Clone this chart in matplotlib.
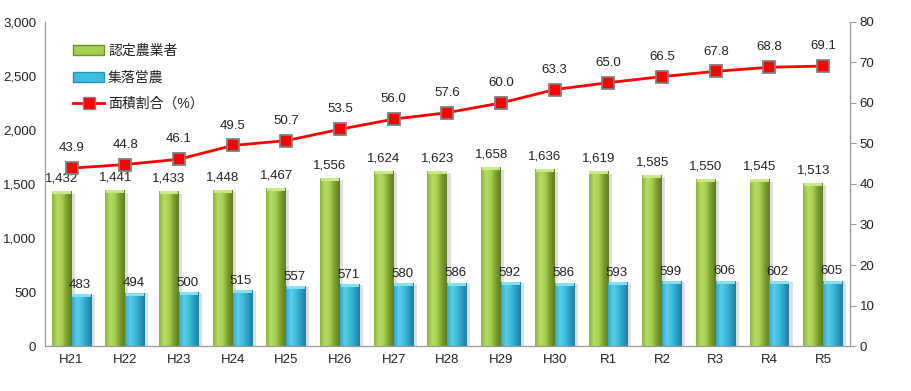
import numpy as np
import matplotlib.pyplot as plt
from matplotlib.colors import LinearSegmentedColormap
from matplotlib.patches import Patch, Rectangle
from matplotlib.lines import Line2D

plt.rcParams['font.family'] = ['Liberation Sans', 'Noto Sans CJK JP', 'DejaVu Sans']

# data
years = ['H21', 'H22', 'H23', 'H24', 'H25', 'H26', 'H27', 'H28', 'H29', 'H30',
         'R1', 'R2', 'R3', 'R4', 'R5']
nintei = [1432, 1441, 1433, 1448, 1467, 1556, 1624, 1623, 1658, 1636,
          1619, 1585, 1550, 1545, 1513]
shuraku = [483, 494, 500, 515, 557, 571, 580, 586, 592, 586,
           593, 599, 606, 602, 605]
ratio = [43.9, 44.8, 46.1, 49.5, 50.7, 53.5, 56.0, 57.6, 60.0, 63.3,
         65.0, 66.5, 67.8, 68.8, 69.1]

fig = plt.figure(figsize=(9.12, 3.91), dpi=100)
ax = fig.add_axes([0.049, 0.115, 0.883, 0.829])
ax2 = ax.twinx()

x = np.arange(len(years))
w = 0.37
txt = '#222222'

green_cm = LinearSegmentedColormap.from_list('g', ['#8cb43c', '#b4dc64', '#a6d050', '#7a9e2e', '#5f7d20'])
blue_cm = LinearSegmentedColormap.from_list('b', ['#36a8cc', '#5ccdeb', '#3cbde0', '#2c9dc2', '#1f7ea0'])

ax.set_xlim(-0.5, len(years) - 0.5)
ax.set_ylim(0, 3000)

def grad_bars(xs, vals, cmap, top_col):
    bars = ax.bar(xs, vals, w, color='none', edgecolor='none', zorder=3)
    grad = np.linspace(0, 1, 64).reshape(1, -1)
    for b in bars:
        x0, h, bw = b.get_x(), b.get_height(), b.get_width()
        # shadow
        ax.add_patch(Rectangle((x0 + bw, 0), 0.06, h * 0.985, color='#c8c8c8',
                               alpha=0.6, zorder=2, lw=0))
        im = ax.imshow(grad, cmap=cmap, extent=[x0, x0 + bw, 0, h],
                       aspect='auto', zorder=3, origin='lower')
        im.set_clip_path(b)
        ax.add_patch(Rectangle((x0 + bw * 0.04, h - 28), bw * 0.92, 28,
                               color=top_col, lw=0, zorder=4))
    return bars

grad_bars(x - w / 2, nintei, green_cm, '#cbe98a')
grad_bars(x + w / 2, shuraku, blue_cm, '#86e0f4')
ax.set_xlim(-0.5, len(years) - 0.5)
ax.set_ylim(0, 3000)

for xi, v in zip(x, nintei):
    ax.text(xi - w / 2, v + 60, f'{v:,}', ha='center', va='bottom', fontsize=9.5,
            color=txt, zorder=6)
for xi, v in zip(x, shuraku):
    ax.text(xi + w / 2 - 0.03, v + 30, f'{v:,}', ha='center', va='bottom', fontsize=9.5,
            color=txt, zorder=6)

ax2.plot(x, ratio, color='#ff0000', lw=2, marker='s', markersize=9,
         markerfacecolor='#ff0000', markeredgecolor='#808080', markeredgewidth=1.3, zorder=5)
ax2.set_ylim(0, 80)
for xi, v in zip(x, ratio):
    ax2.text(xi, v + 3.4, f'{v:.1f}', ha='center', va='bottom', fontsize=9.5, color=txt)

ax.set_yticks(np.arange(0, 3001, 500))
ax.set_yticklabels([f'{t:,}' for t in range(0, 3001, 500)])
ax2.set_yticks(np.arange(0, 81, 10))
ax.set_xticks(x)
ax.set_xticklabels(years)

for a in (ax, ax2):
    a.spines['top'].set_visible(False)
    for s in ('left', 'right', 'bottom'):
        a.spines[s].set_color('#999999')
ax.tick_params(axis='y', length=0, labelsize=9.5, pad=6, labelcolor=txt)
ax.tick_params(axis='x', length=0, labelsize=9.5, pad=6, labelcolor=txt)
ax2.tick_params(axis='y', length=4, color='#999999', labelsize=9.5, pad=3, labelcolor=txt)

handles = [Patch(facecolor='#a6d050', edgecolor='#6e8f2a', lw=1),
           Patch(facecolor='#3cbde0', edgecolor='#2a8fb0', lw=1),
           Line2D([0], [0], color='#ff0000', lw=2, marker='s', markersize=8,
                  markerfacecolor='#ff0000', markeredgecolor='#808080')]
labels = ['認定農業者', '集落営農', '面積割合（%）']
leg = ax2.legend(handles, labels, loc='upper left', bbox_to_anchor=(0.02, 0.97),
                 frameon=False, fontsize=10, labelspacing=0.9, handlelength=2.2,
                 handletextpad=0.3, labelcolor=txt)

fig.savefig('out.png', dpi=100)
